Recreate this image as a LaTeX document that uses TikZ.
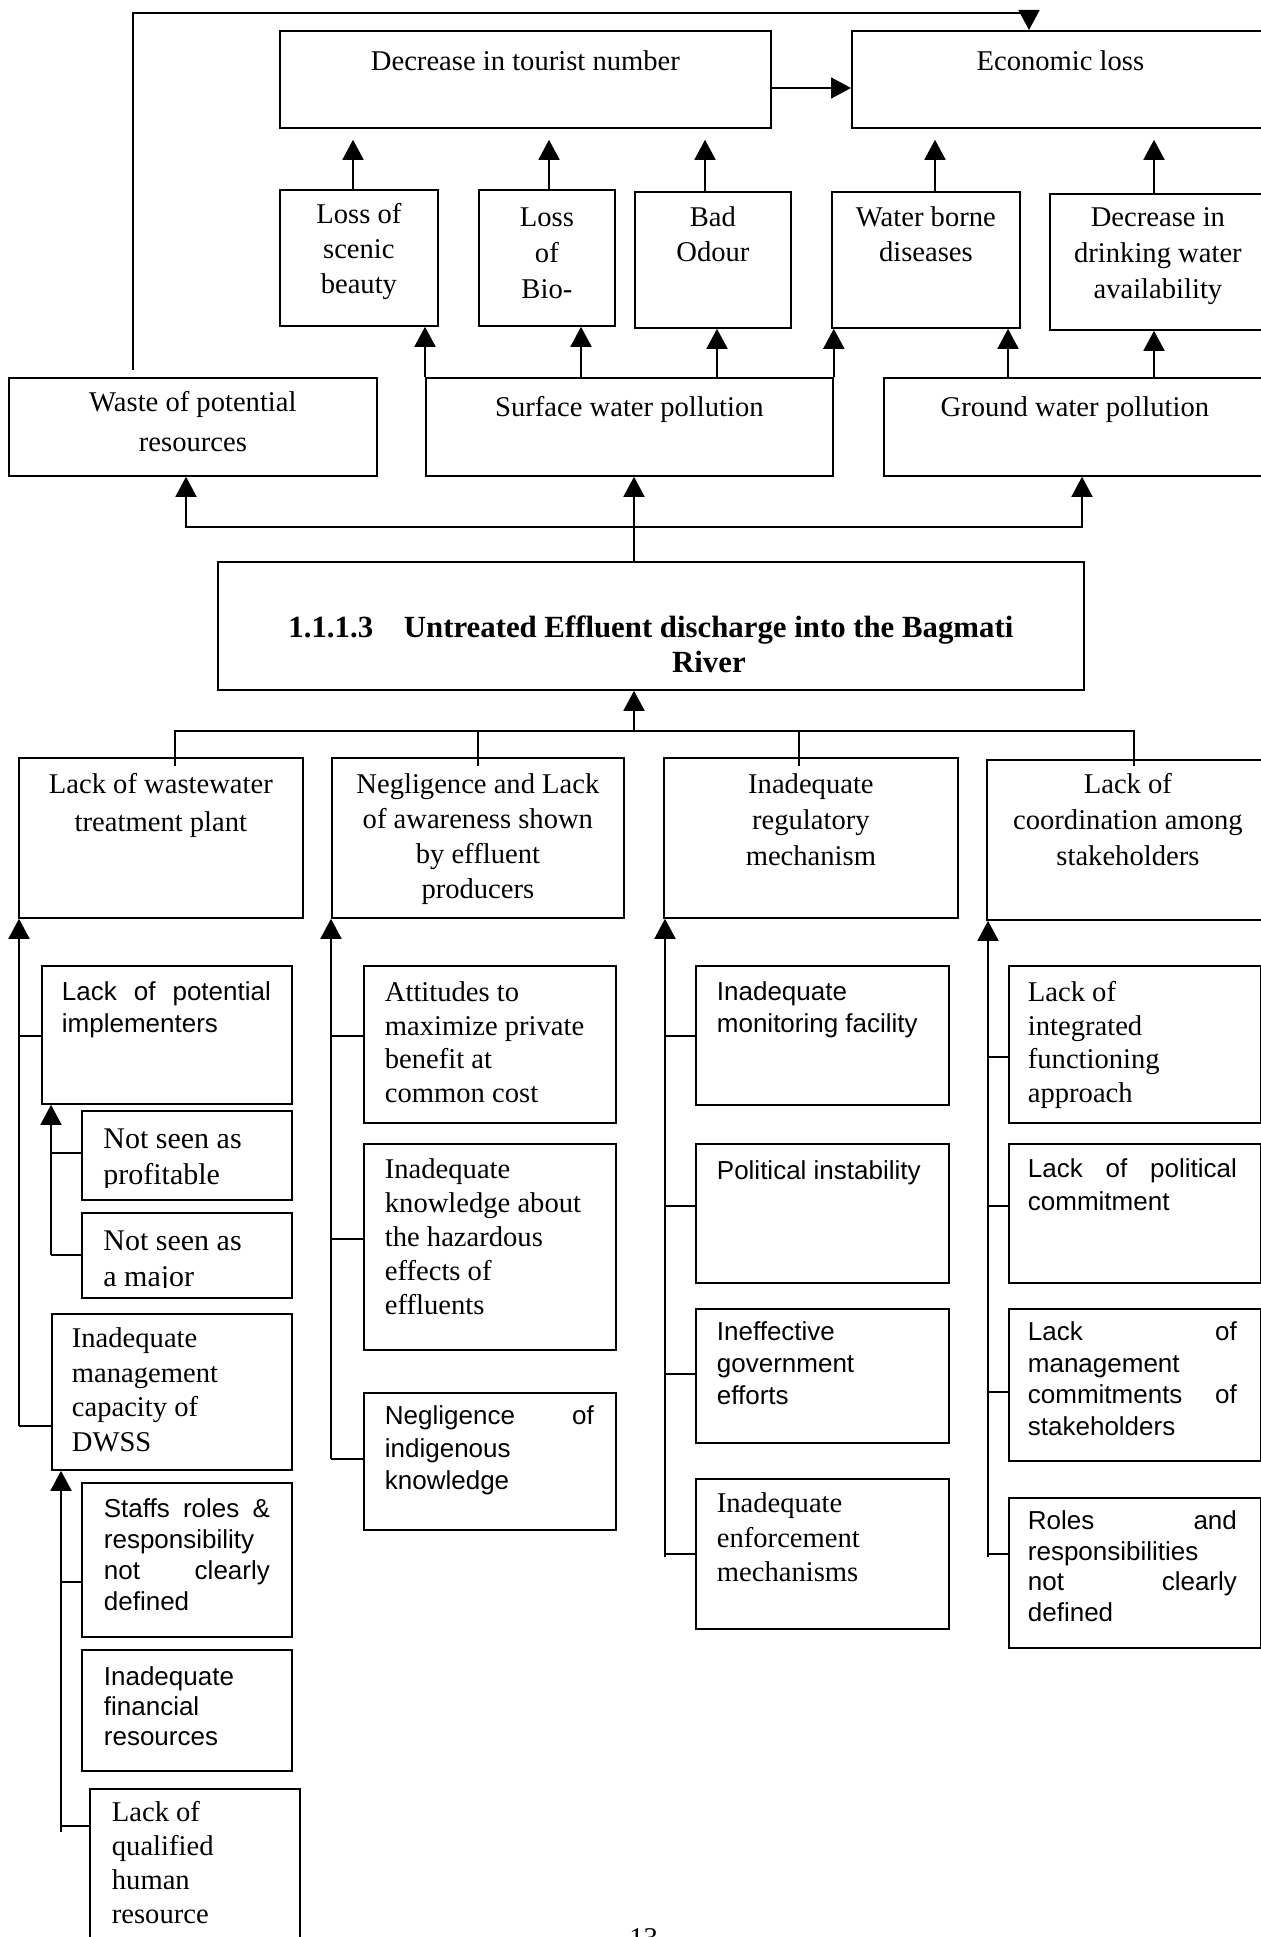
\documentclass[tikz,border=0pt]{standalone}
\usepackage{fontspec}
\setmainfont{Liberation Serif}
\setsansfont{Liberation Sans}
\usetikzlibrary{arrows.meta,calc}
\newlength\pxu \setlength\pxu{0.5pt}
\hyphenpenalty=10000 \exhyphenpenalty=10000
\newcommand\fSer{\rmfamily\fontsize{14.3pt}{17.5pt}\selectfont}
\newcommand\fSerB{\rmfamily\fontsize{15pt}{18pt}\selectfont}
\newcommand\fSan{\sffamily\fontsize{13pt}{16pt}\selectfont}
\newcommand\fHead{\rmfamily\bfseries\fontsize{15.4pt}{17.5pt}\selectfont}
\newcommand\lftal[2]{\raggedright\leftskip=#1\pxu\rightskip=#2\pxu plus 1fil\relax}
% width, height, first baseline, baselineskip, font+align, text (all in px)
\newcommand\bxt[6]{\parbox[c][#2\pxu][t]{#1\pxu}{#5\baselineskip=#4\pxu\relax\vskip\dimexpr#3\pxu-\baselineskip\relax\prevdepth=0pt\relax#6\par}}
\tikzset{
  bx/.style={draw, line width=0.9pt, inner sep=0pt, anchor=north west},
  ln/.style={line width=0.9pt},
  arr/.style={line width=0.9pt, -{Triangle[length=10pt,width=10.5pt]}}
}
\begin{document}
\begin{tikzpicture}[x=0.5pt,y=-0.5pt]
\useasboundingbox (0,0) rectangle (1261,1937);
% ---------- effects ----------
\node[bx] (dt) at (279,30) {\bxt{491}{97}{40}{35}{\fSer\centering}{Decrease in tourist number}};
\node[bx] (el) at (851,30) {\bxt{417}{97}{40}{35}{\fSer\centering}{Economic loss}};
\node[bx] (ls) at (279,189) {\bxt{158}{136}{34}{35}{\fSer\centering}{Loss of\\scenic\\beauty}};
\node[bx] (lb) at (478,189) {\bxt{136}{136}{37}{36}{\fSer\centering}{Loss\\of\\Bio-}};
\node[bx] (bo) at (634,191) {\bxt{156}{136}{35}{35}{\fSer\centering}{Bad\\Odour}};
\node[bx] (wb) at (831,191) {\bxt{188}{136}{35}{35}{\fSer\centering}{Water borne\\diseases}};
\node[bx] (dd) at (1049,193) {\bxt{216}{136}{33}{36}{\fSer\centering}{Decrease in\\drinking water\\availability}};
\node[bx] (wp) at (8,377) {\bxt{368}{98}{34}{40}{\fSer\centering}{Waste of potential\\resources}};
\node[bx] (sw) at (425,377) {\bxt{407}{98}{39}{35}{\fSer\centering}{Surface water pollution}};
\node[bx] (gw) at (883,377) {\bxt{382}{98}{39}{35}{\fSer\centering}{Ground water pollution}};
% ---------- core problem ----------
\node[bx] (main) at (217,561) {\bxt{866}{128}{76}{35}{\fHead\centering}{1.1.1.3\quad Untreated Effluent discharge into the Bagmati\\\hspace*{116\pxu}River}};
% ---------- causes ----------
\node[bx] (c1) at (18,757) {\bxt{284}{160}{36}{38}{\fSer\centering}{Lack of wastewater\\treatment plant}};
\node[bx] (c2) at (331,757) {\bxt{292}{160}{36}{35}{\fSer\centering}{Negligence and Lack\\of awareness shown\\by effluent\\producers}};
\node[bx] (c3) at (663,757) {\bxt{294}{160}{36}{36}{\fSer\centering}{Inadequate\\regulatory\\mechanism}};
\node[bx] (c4) at (986,759) {\bxt{282}{160}{34}{36}{\fSer\centering}{Lack of\\coordination among\\stakeholders}};
% column 1
\node[bx] (i1) at (41,965) {\bxt{250}{138}{35}{32}{\fSan\lftal{20}{21}}{Lack\hfill of\hfill potential\\implementers}};
\node[bx, minimum width=105pt, minimum height=44.5pt] (n1) at (81,1110) {};
\begin{scope}
\clip (81,1110) rectangle (291,1187);
\node[anchor=north west, inner sep=0pt] (n1t) at (81,1110) {\bxt{210}{89}{38}{36}{\fSerB\lftal{22}{10}}{Not seen as\\profitable}};
\end{scope}
\node[bx, minimum width=105pt, minimum height=42.5pt] (n2) at (81,1212) {};
\begin{scope}
\clip (81,1212) rectangle (291,1287);
\node[anchor=north west, inner sep=0pt] (n2t) at (81,1212) {\bxt{210}{85}{38}{36}{\fSerB\lftal{22}{10}}{Not seen as\\a major}};
\end{scope}
\node[bx] (m1) at (51,1313) {\bxt{240}{156}{34}{34.5}{\fSer\lftal{20}{10}}{Inadequate\\management\\capacity of\\DWSS}};
\node[bx] (s1) at (81,1482) {\bxt{210}{154}{35}{31}{\fSan\lftal{22}{22}}{Staffs\hfill roles\hfill \&\\responsibility\\not\hfill clearly\\defined}};
\node[bx] (f1) at (81,1649) {\bxt{210}{121}{36}{30}{\fSan\lftal{22}{10}}{Inadequate\\financial\\resources}};
\node[bx] (q1) at (89,1788) {\bxt{210}{170}{33}{34}{\fSer\lftal{22}{10}}{Lack of\\qualified\\human\\resource}};
% column 2
\node[bx] (a2) at (363,965) {\bxt{252}{157}{36}{33.5}{\fSer\lftal{21}{10}}{Attitudes to\\maximize private\\benefit at\\common cost}};
\node[bx] (k2) at (363,1143) {\bxt{252}{206}{35}{34}{\fSer\lftal{21}{10}}{Inadequate\\knowledge about\\the hazardous\\effects of\\effluents}};
\node[bx] (g2) at (363,1392) {\bxt{252}{137}{32}{32.5}{\fSan\lftal{21}{22}}{Negligence\hfill of\\indigenous\\knowledge}};
% column 3
\node[bx] (m3) at (695,965) {\bxt{253}{139}{35}{32}{\fSan\lftal{21}{10}}{Inadequate\\monitoring facility}};
\node[bx] (p3) at (695,1143) {\bxt{253}{139}{36}{32}{\fSan\lftal{21}{10}}{Political instability}};
\node[bx] (e3b) at (695,1308) {\bxt{253}{134}{32}{32}{\fSan\lftal{21}{10}}{Ineffective\\government\\efforts}};
\node[bx] (r3) at (695,1478) {\bxt{253}{150}{34}{34.5}{\fSer\lftal{21}{10}}{Inadequate\\enforcement\\mechanisms}};
% column 4
\node[bx] (l4) at (1008,965) {\bxt{252}{157}{36}{33.5}{\fSer\lftal{19}{10}}{Lack of\\integrated\\functioning\\approach}};
\node[bx] (pc4) at (1008,1143) {\bxt{252}{139}{34}{33}{\fSan\lftal{19}{24}}{Lack\hfill of\hfill political\\commitment}};
\node[bx] (mc4) at (1008,1308) {\bxt{252}{152}{32}{31.5}{\fSan\lftal{19}{24}}{Lack\hfill of\\management\\commitments\hfill of\\stakeholders}};
\node[bx] (rr4) at (1008,1497) {\bxt{252}{150}{32}{30.5}{\fSan\lftal{19}{24}}{Roles\hfill and\\responsibilities\\not\hfill clearly\\defined}};
% page number
\node[anchor=north west, inner sep=0pt, font=\fSer] (pg) at (629,1928) {13};
% ---------- connectors: effects ----------
\coordinate (wpup) at (133,370);
\draw[arr] (wpup) -- (wpup |- 0,13) -| (el.north -| 1029,0);
\draw[arr] (dt.east |- 0,88) -- (el.west |- 0,88);
\draw[arr, shorten >=5.5pt] (ls.north -| 353,0) -- (dt.south -| 353,0);
\draw[arr, shorten >=5.5pt] (lb.north -| 549,0) -- (dt.south -| 549,0);
\draw[arr, shorten >=5.5pt] (bo.north -| 705,0) -- (dt.south -| 705,0);
\draw[arr, shorten >=5.5pt] (wb.north -| 935,0) -- (el.south -| 935,0);
\draw[arr, shorten >=5.5pt] (dd.north -| 1154,0) -- (el.south -| 1154,0);
\draw[arr] (sw.north west) -- (sw.north west |- ls.south);
\draw[arr] (sw.north -| 581,0) -- (lb.south -| 581,0);
\draw[arr] (sw.north -| 717,0) -- (bo.south -| 717,0);
\draw[arr] (sw.north east) -- (sw.north east |- wb.south);
\draw[arr] (gw.north -| 1008,0) -- (wb.south -| 1008,0);
\draw[arr] (gw.north -| 1154,0) -- (dd.south -| 1154,0);
% core to effects
\coordinate (hub) at (634,527);
\draw[arr] (main.north -| hub) -- (sw.south -| hub);
\draw[arr] (hub) -| (wp.south -| 186,0);
\draw[arr] (hub) -| (gw.south -| 1082,0);
% causes to core
\coordinate (hub2) at (634,731);
\coordinate (d1) at (175,766);
\coordinate (d2) at (478,766);
\coordinate (d3) at (799,766);
\coordinate (d4) at (1134,766);
\draw[arr] (hub2) -- (main.south -| hub2);
\draw[ln] (d1) |- (hub2) -| (d4);
\draw[ln] (d2) -- (d2 |- hub2);
\draw[ln] (d3) -- (d3 |- hub2);
% column 1 spines
\coordinate (e1) at (19,1426);
\draw[arr] (e1) -- (c1.south -| e1);
\draw[ln] (e1 |- 0,1036) -- (i1.west |- 0,1036);
\draw[ln] (e1) -- (e1 -| m1.west);
\coordinate (e1a) at (51,1255);
\draw[arr] (e1a) -- (i1.south -| e1a);
\draw[ln] (e1a |- 0,1153) -- (n1.west |- 0,1153);
\draw[ln] (e1a) -- (e1a -| n2.west);
\coordinate (e1b) at (61,1832);
\draw[arr] (e1b) -- (m1.south -| e1b);
\draw[ln] (e1b |- 0,1582) -- (s1.west |- 0,1582);
\draw[ln] (e1b |- 0,1826) -- (q1.west |- 0,1826);
% column 2
\coordinate (e2) at (331,1459);
\draw[arr] (e2) -- (c2.south -| e2);
\draw[ln] (e2 |- 0,1036) -- (a2.west |- 0,1036);
\draw[ln] (e2 |- 0,1239) -- (k2.west |- 0,1239);
\draw[ln] (e2) -- (e2 -| g2.west);
% column 3
\coordinate (e3) at (665,1557);
\draw[arr] (e3) -- (c3.south -| e3);
\draw[ln] (e3 |- 0,1036) -- (m3.west |- 0,1036);
\draw[ln] (e3 |- 0,1206) -- (p3.west |- 0,1206);
\draw[ln] (e3 |- 0,1374) -- (e3b.west |- 0,1374);
\draw[ln] (e3 |- 0,1554) -- (r3.west |- 0,1554);
% column 4
\coordinate (e4) at (988,1557);
\draw[arr] (e4) -- (c4.south -| e4);
\draw[ln] (e4 |- 0,1057) -- (l4.west |- 0,1057);
\draw[ln] (e4 |- 0,1206) -- (pc4.west |- 0,1206);
\draw[ln] (e4 |- 0,1392) -- (mc4.west |- 0,1392);
\draw[ln] (e4 |- 0,1554) -- (rr4.west |- 0,1554);
\end{tikzpicture}
\end{document}
